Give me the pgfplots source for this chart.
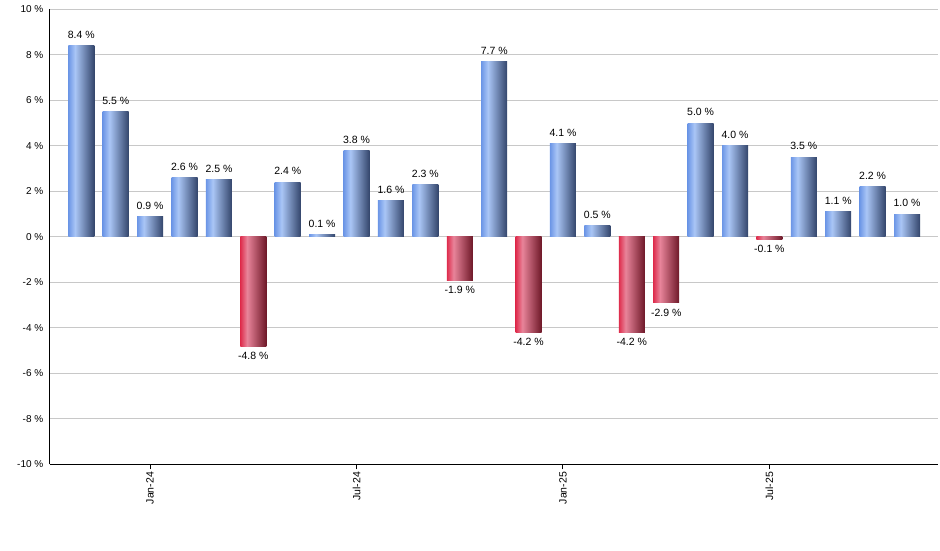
\documentclass[border=0pt]{standalone}
\usepackage{pgfplots}
\pgfplotsset{compat=1.18}
\usepackage{fontspec}
\setmainfont{Liberation Sans}

\definecolor{blueA}{HTML}{6C96E6}
\definecolor{blueB}{HTML}{AAC6F6}
\definecolor{blueC}{HTML}{33456B}
\definecolor{redA}{HTML}{DE2C4C}
\definecolor{redB}{HTML}{E8849A}
\definecolor{redC}{HTML}{6E1828}
\definecolor{gridgray}{HTML}{C8C8C8}

\pgfdeclarehorizontalshading{bluebar}{100bp}{color(0bp)=(blueA); color(25bp)=(blueA); color(38bp)=(blueB); color(75bp)=(blueC); color(100bp)=(blueC)}
\pgfdeclarehorizontalshading{redbar}{100bp}{color(0bp)=(redA); color(25bp)=(redA); color(38bp)=(redB); color(75bp)=(redC); color(100bp)=(redC)}

% one plot per bar so that every bar gets its own gradient
\pgfplotsset{
  posbar/.style={ybar, bar width=26pt, bar shift=0pt, draw=none, shade, shading=bluebar,
    every node near coord/.append style={yshift=4pt}},
  negbar/.style={ybar, bar width=26pt, bar shift=0pt, draw=none, shade, shading=redbar,
    every node near coord/.append style={yshift=-3pt}},
}

\begin{document}
\begin{tikzpicture}
\useasboundingbox (0,0) rectangle (940pt,550pt);
\begin{axis}[
    at={(50pt,85.7pt)}, anchor=south west,
    scale only axis, width=888pt, height=455pt,
    xmin=-0.91, xmax=24.9,
    ymin=-10, ymax=10,
    ytick={-10,-8,...,10},
    xtick={2,8,14,20},
    xticklabels={Jan-24,Jul-24,Jan-25,Jul-25},
    axis lines*=left,
    axis line style={black, line width=1pt},
    ymajorgrids=true,
    grid style={gridgray, line width=1pt},
    ytick style={draw=none},
    xtick style={black, line width=1pt},
    tick align=outside,
    major tick length=5pt,
    /pgf/number format/assume math mode=true,
    yticklabel={\pgfmathprintnumber{\tick}~\%},
    yticklabel style={font=\fontsize{10}{12}\selectfont, inner sep=1.5pt},
    xticklabel style={font=\fontsize{10.5}{12}\selectfont, rotate=90, anchor=east, inner sep=2.5pt},
    clip=false,
    nodes near coords={\pgfmathprintnumber[fixed,fixed zerofill,precision=1,assume math mode=true]{\pgfplotspointmeta}~\%},
    every node near coord/.append style={font=\fontsize{10.5}{12}\selectfont, black, inner sep=3pt},
]
\addplot[posbar] coordinates {(0,8.4)};   % Nov-23
\addplot[posbar] coordinates {(1,5.5)};   % Dec-23
\addplot[posbar] coordinates {(2,0.9)};   % Jan-24
\addplot[posbar] coordinates {(3,2.6)};
\addplot[posbar] coordinates {(4,2.5)};
\addplot[negbar] coordinates {(5,-4.8)};
\addplot[posbar] coordinates {(6,2.4)};
\addplot[posbar] coordinates {(7,0.1)};
\addplot[posbar] coordinates {(8,3.8)};   % Jul-24
\addplot[posbar] coordinates {(9,1.6)};
\addplot[posbar] coordinates {(10,2.3)};
\addplot[negbar] coordinates {(11,-1.9)};
\addplot[posbar] coordinates {(12,7.7)};
\addplot[negbar] coordinates {(13,-4.2)};
\addplot[posbar] coordinates {(14,4.1)};  % Jan-25
\addplot[posbar] coordinates {(15,0.5)};
\addplot[negbar] coordinates {(16,-4.2)};
\addplot[negbar] coordinates {(17,-2.9)};
\addplot[posbar] coordinates {(18,5.0)};
\addplot[posbar] coordinates {(19,4.0)};
\addplot[negbar] coordinates {(20,-0.1)}; % Jul-25
\addplot[posbar] coordinates {(21,3.5)};
\addplot[posbar] coordinates {(22,1.1)};
\addplot[posbar] coordinates {(23,2.2)};
\addplot[posbar] coordinates {(24,1.0)};  % Nov-25
\end{axis}
\end{tikzpicture}
\end{document}
